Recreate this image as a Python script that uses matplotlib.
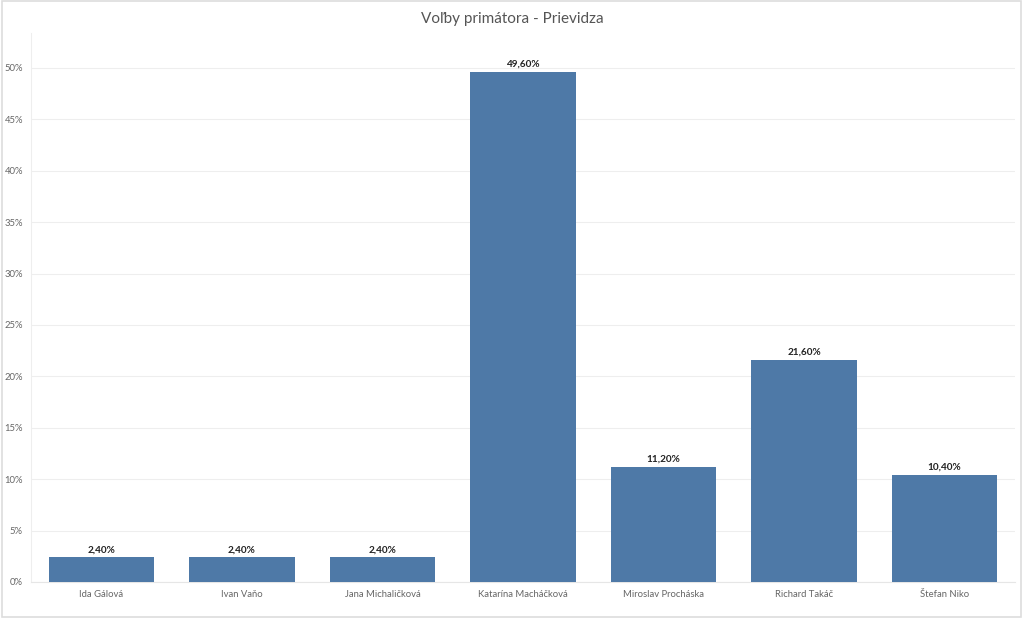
import matplotlib.pyplot as plt
from matplotlib.patches import Rectangle
from matplotlib.ticker import FuncFormatter, MultipleLocator

plt.rcParams["font.family"] = ["Lato", "DejaVu Sans"]

candidates = [
    "Ida Gálová",
    "Ivan Vaňo",
    "Jana Michaličková",
    "Katarína Macháčková",
    "Miroslav Procháska",
    "Richard Takáč",
    "Štefan Niko",
]
votes_pct = [2.4, 2.4, 2.4, 49.6, 11.2, 21.6, 10.4]

fig = plt.figure(figsize=(10.24, 6.19), dpi=100)
ax = fig.add_axes([0.0305, 0.0598, 0.9605, 0.887])

x = range(len(candidates))
bars = ax.bar(x, votes_pct, width=0.75, color="#4e79a7", zorder=3)

for b, v in zip(bars, votes_pct):
    ax.text(b.get_x() + b.get_width() / 2, v + 0.3,
            ("%.2f%%" % v).replace(".", ","),
            ha="center", va="bottom", fontsize=7.2, fontweight="bold",
            color="#222222")

ax.set_xlim(-0.5, len(candidates) - 0.5)
ax.set_ylim(0, 53.4)
ax.yaxis.set_major_locator(MultipleLocator(5))
ax.yaxis.set_major_formatter(FuncFormatter(lambda v, p: "%d%%" % v))
ax.set_xticks(list(x))
ax.set_xticklabels(candidates)
ax.tick_params(axis="both", length=0, labelsize=6.8, labelcolor="#666666")
ax.tick_params(axis="x", pad=6)
ax.tick_params(axis="y", pad=6)

ax.grid(axis="y", color="#eeeeee", linewidth=0.8, zorder=0)
for s in ["top", "right"]:
    ax.spines[s].set_visible(False)
ax.spines["left"].set_color("#eeeeee")
ax.spines["bottom"].set_color("#e6e6e6")

fig.text(0.5, 0.97, "Voľby primátora - Prievidza", ha="center", va="center",
         fontsize=11, color="#555555")

fig.patches.append(Rectangle((0.002, 0.004), 0.995, 0.994, transform=fig.transFigure,
                             fill=False, edgecolor="#dddddd", linewidth=1.2))

fig.savefig("out.png", dpi=100)
